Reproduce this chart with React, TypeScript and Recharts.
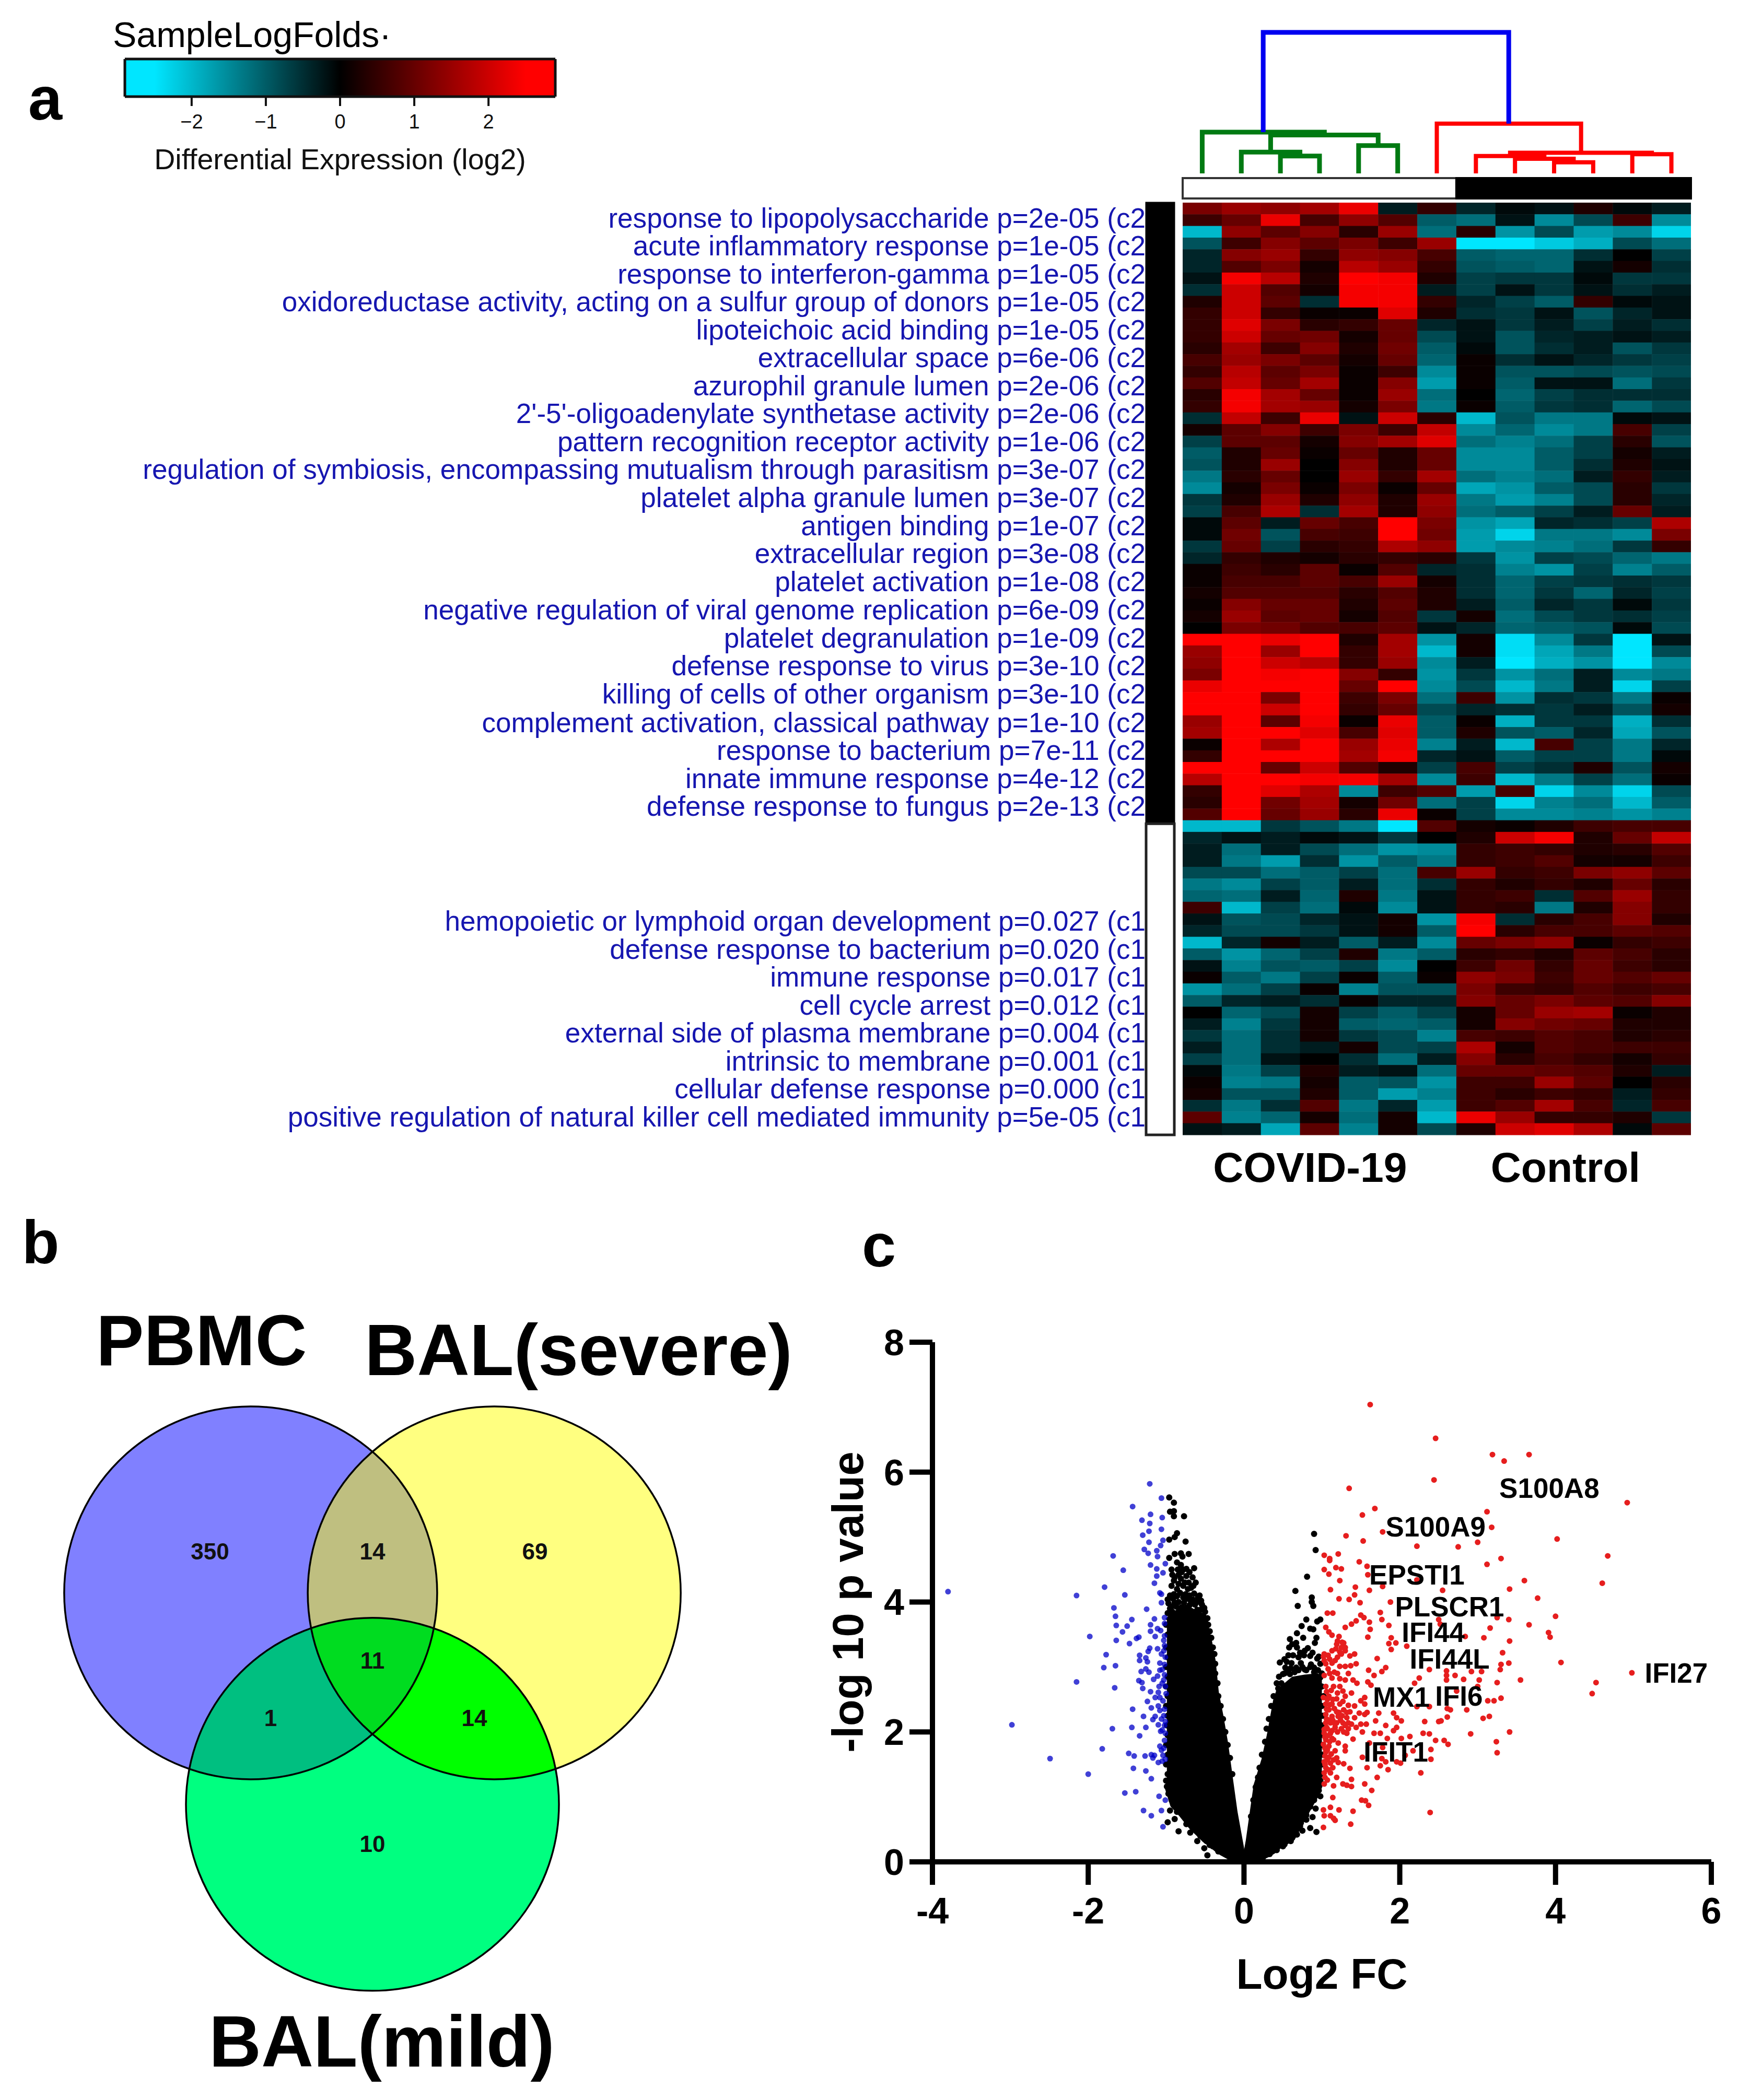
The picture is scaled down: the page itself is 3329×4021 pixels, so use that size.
import React from 'react';
import {
  Area,
  Bar,
  BarChart,
  ComposedChart,
  Line,
  Scatter,
  ScatterChart,
  XAxis,
  YAxis
} from 'recharts';

const FONT = '"Liberation Sans", Arial, sans-serif';

// panel a: colour scale
const legendStops = [-2.9, -2.5, 0, 2.5, 2.9];
const legendTicks = [-2, -1, 0, 1, 2];
const legendEnds = [-2.9, 2.9];

// panel a: GO terms next to the heatmap, with the heatmap row each one sits on
const termLabels = [
  'response to lipopolysaccharide p=2e-05 (c2',
  'acute inflammatory response p=1e-05 (c2',
  'response to interferon-gamma p=1e-05 (c2',
  'oxidoreductase activity, acting on a sulfur group of donors p=1e-05 (c2',
  'lipoteichoic acid binding p=1e-05 (c2',
  'extracellular space p=6e-06 (c2',
  'azurophil granule lumen p=2e-06 (c2',
  "2'-5'-oligoadenylate synthetase activity p=2e-06 (c2",
  'pattern recognition receptor activity p=1e-06 (c2',
  'regulation of symbiosis, encompassing mutualism through parasitism p=3e-07 (c2',
  'platelet alpha granule lumen p=3e-07 (c2',
  'antigen binding p=1e-07 (c2',
  'extracellular region p=3e-08 (c2',
  'platelet activation p=1e-08 (c2',
  'negative regulation of viral genome replication p=6e-09 (c2',
  'platelet degranulation p=1e-09 (c2',
  'defense response to virus p=3e-10 (c2',
  'killing of cells of other organism p=3e-10 (c2',
  'complement activation, classical pathway p=1e-10 (c2',
  'response to bacterium p=7e-11 (c2',
  'innate immune response p=4e-12 (c2',
  'defense response to fungus p=2e-13 (c2',
  'hemopoietic or lymphoid organ development p=0.027 (c1',
  'defense response to bacterium p=0.020 (c1',
  'immune response p=0.017 (c1',
  'cell cycle arrest p=0.012 (c1',
  'external side of plasma membrane p=0.004 (c1',
  'intrinsic to membrane p=0.001 (c1',
  'cellular defense response p=0.000 (c1',
  'positive regulation of natural killer cell mediated immunity p=5e-05 (c1'
];
const termRows = [
  1.3, 3.7, 6.1, 8.5, 10.9, 13.3, 15.7, 18.1, 20.5, 22.9, 25.3, 27.7, 30.1, 32.5, 34.95, 37.35, 39.75,
  42.15, 44.6, 47.0, 49.4, 51.8, 61.65, 64.05, 66.45, 68.85, 71.25, 73.65, 76.05, 78.45
];
const groupTicks = [3.26, 9.79];
const groupNames = ['COVID-19', 'Control'];
const sampleGroups = [{ name: 'samples', covid: 7, control: 6 }];
const clusterRows = [{ name: 'rows', c2: 53.3, c1: 26.7 }];

// log2 values, one list per heatmap row, 13 samples (7 COVID-19 then 6 control)
const heatRows = [
  [1.2, 1.5, 1.4, 1.6, 2.3, -0.3, 0.5, -0.4, -0.1, -0.2, 0.3, -0.1, -0.3],
  [0.6, 1.0, 2.3, 0.7, 1.4, 0.8, -1.0, -1.2, -0.2, -1.5, -0.8, 0.6, -1.5],
  [-2.0, 1.4, 0.9, 1.3, 0.4, 1.5, -1.2, 0.4, -1.6, -0.8, -1.7, -1.5, -2.3],
  [-0.9, 0.6, 1.3, 0.9, 1.2, 0.6, 1.5, -2.5, -2.5, -2.2, -1.9, -0.8, -1.2],
  [-0.4, 1.3, 1.5, 0.5, 1.4, 1.3, 0.7, -1.0, -1.1, -1.1, -0.5, 0, -0.7],
  [-0.4, 0.8, 1.2, 0.2, 1.8, 1.5, 0.5, -0.9, -1.0, -1.1, -0.2, 0.2, -0.5],
  [-0.2, 2.4, 1.8, 0.3, 2.5, 2.4, 0.3, -0.7, -0.6, -0.6, -0.1, -0.6, -0.6],
  [-0.5, 2.0, 0.8, 0.2, 2.4, 2.4, -0.3, -0.7, -0.2, -0.6, -0.2, -0.5, -0.3],
  [0.3, 2.0, 0.9, -0.5, 2.4, 2.4, 0.5, -0.4, -0.7, -1.0, 0.5, -0.1, -0.2],
  [0.5, 2.0, 0.5, 0.1, 0.1, 2.2, 0.3, -0.5, -0.6, -0.2, -0.9, -0.4, -0.2],
  [0.5, 2.2, 1.2, 0.4, 0.5, 1.0, -0.4, -0.2, -0.6, -0.3, -0.7, -0.3, -0.5],
  [0.5, 2.0, 1.0, 1.1, 0.2, 1.0, -0.8, -0.2, -0.9, -0.4, -0.3, -0.2, -0.3],
  [0.4, 1.6, 0.6, 1.3, 0.3, 1.1, -1.0, -0.1, -0.9, -0.5, -0.3, -0.9, -0.6],
  [0.7, 1.5, 1.2, 0.9, 0.2, 1.0, -1.1, 0.1, -0.5, -0.2, -0.4, -0.6, -0.7],
  [0.5, 1.8, 0.9, 1.2, 0.1, 0.6, -1.5, 0.1, -0.9, -0.9, -0.8, -0.9, -0.8],
  [0.8, 1.9, 1.0, 1.6, 0.1, 1.3, -1.7, 0.1, -1.0, -0.2, -0.2, -1.2, -0.6],
  [0.4, 2.4, 1.6, 1.0, 0.1, 1.5, -1.2, 0, -1.1, -0.7, -0.5, -0.5, -0.5],
  [0.5, 2.4, 1.6, 1.5, 0.2, 1.2, -1.3, 0.1, -1.0, -0.6, -0.5, -1.1, -0.8],
  [-0.5, 1.9, 0.6, 2.3, -0.2, 2.0, 0.4, -2.0, -0.9, -1.3, -1.3, -0.1, -0.2],
  [0.2, 0.9, 1.3, 0.6, 1.2, 0.6, 1.9, -1.5, -1.1, -1.5, -1.3, 0.7, -0.7],
  [-0.7, 0.9, 0.9, 0.2, 1.3, 1.6, 2.2, -1.2, -1.4, -1.2, -0.7, 0.4, -0.9],
  [-1.0, 0.3, 1.0, 0.1, 1.0, 0.3, 1.0, -1.5, -1.5, -1.0, -0.7, 0.2, -0.3],
  [-0.9, 0.3, 1.5, 0, 1.3, 0.3, 1.0, -1.5, -1.5, -1.0, -0.5, 0.3, -0.2],
  [-1.3, 0.4, 1.0, 0, 1.5, 0.5, 1.6, -1.2, -1.4, -1.2, -0.3, 0.5, -0.3],
  [-1.5, 0.2, 1.2, 0.1, 1.2, 0.1, 1.0, -1.8, -1.6, -1.0, -0.8, 0.4, -0.6],
  [-0.6, 0.3, 1.5, 0.3, 1.4, 0.3, 1.5, -1.3, -1.7, -1.4, -0.8, 0.4, -0.4],
  [-0.7, 0.7, 1.7, -0.5, 1.6, 0.3, 1.4, -1.2, -1.0, -0.7, -0.3, 1.0, -0.3],
  [-0.1, 0.9, -0.3, 1.0, 0.7, 2.5, 1.2, -1.6, -1.8, -0.4, -0.5, -0.7, 1.7],
  [-0.1, 1.1, -0.9, 0.7, 0.6, 2.5, 1.1, -1.7, -2.3, -1.3, -1.3, -1.5, 1.2],
  [-0.6, 1.0, -0.7, 0.4, 0.5, 1.7, 1.4, -1.7, -1.5, -1.4, -1.2, -0.6, 0.5],
  [-0.4, 0.5, 0.3, 0.2, 0.4, 0.5, 0.4, -0.6, -1.6, -0.7, -0.8, -1.1, -1.3],
  [0.1, 0.6, 0.4, 0.9, 0.1, 0.8, -0.4, -0.5, -1.4, -1.6, -0.7, -1.4, -1.0],
  [0.1, 0.7, 0.7, 0.9, 0.7, 1.5, 0.2, -0.5, -1.1, -0.7, -0.6, -0.5, -0.6],
  [0.2, 0.8, 0.8, 0.8, 0.4, 0.8, 0.3, -0.5, -1.1, -0.6, -1.1, -0.4, -0.7],
  [0.1, 1.3, 1.0, 1.0, 0.3, 0.9, 0.3, -0.3, -1.0, -0.4, -0.6, -0.1, -0.6],
  [0.2, 1.5, 0.9, 1.0, 0.2, 0.8, -0.6, 0.2, -1.2, -0.8, -0.6, -0.5, -0.7],
  [0, 1.2, 1.1, 0.8, 0.7, 0.9, -0.2, -0.4, -1.1, -1.0, -0.9, -0.1, -0.8],
  [2.5, 2.5, 2.3, 2.5, 0.3, 1.6, -1.6, 0.2, -2.4, -1.5, -0.6, -2.5, -0.2],
  [1.5, 2.5, 1.5, 2.5, 0.5, 1.6, -2.0, 0.2, -2.4, -1.8, -1.3, -2.5, -0.8],
  [1.4, 2.5, 2.0, 1.8, 0.5, 1.5, -1.5, -0.3, -2.5, -1.9, -1.6, -2.5, -1.5],
  [1.2, 2.5, 2.4, 2.5, 1.3, 0.5, -1.6, -0.6, -1.6, -1.2, -0.3, -1.5, -1.3],
  [2.3, 2.5, 2.5, 2.5, 1.0, 2.5, -1.5, -0.8, -2.0, -1.3, -0.3, -2.3, -0.7],
  [2.5, 2.5, 1.2, 2.5, 0.6, 1.2, -1.2, 0.6, -1.6, -0.5, -0.6, -1.3, 0.1],
  [2.5, 2.5, 2.0, 2.5, 0.5, 1.0, -0.8, -0.4, -0.5, -0.6, -0.3, -0.9, 0.2],
  [1.5, 2.5, 0.9, 2.4, 0.1, 2.3, -1.0, 0.1, -1.9, -0.6, -0.6, -1.9, -0.5],
  [1.6, 2.5, 2.5, 2.2, 0.7, 2.2, -1.0, 0.3, -0.9, -1.0, -0.4, -1.8, -0.9],
  [0.1, 2.5, 1.7, 2.5, 1.5, 2.3, -1.4, -0.3, -2.0, 0.7, -0.7, -1.3, -0.4],
  [0.5, 2.5, 2.5, 2.5, 1.6, 2.4, -0.4, -0.2, -1.0, -0.7, -0.7, -1.3, -0.1],
  [2.5, 2.5, 1.0, 2.0, 0.8, 0.3, -0.7, 0.7, -0.7, -0.5, 0.3, -0.9, 0.2],
  [1.8, 2.5, 2.5, 2.4, 2.4, 1.6, -1.5, 0.6, -2.0, -1.3, -0.7, -1.2, 0.1],
  [0.5, 2.5, 2.2, 1.7, -1.5, 0.6, 0.8, -1.7, 0.7, -2.3, -1.5, -2.3, -0.8],
  [0.4, 2.5, 1.1, 1.6, 0.2, 1.1, -1.2, -0.7, -2.3, -1.4, -1.2, -2.0, -1.0],
  [0.8, 2.5, 1.0, 1.5, 0.4, 2.3, 0.1, -0.7, -1.5, -1.5, -1.4, -1.6, -1.4],
  [-2.0, -2.0, -0.6, -0.9, -1.3, -2.5, 0.8, 0.2, 0.1, 0.3, 0.6, 0.7, 0.7],
  [-0.4, -0.2, -0.3, -0.1, -0.2, -0.6, 0, 0.3, 2.0, 2.4, 0.3, 1.0, 1.9],
  [-0.3, -1.2, -0.3, -0.8, -1.2, -1.6, -1.5, 0.5, 0.6, 0.5, 0.3, 0.4, 0.8],
  [-0.3, -1.3, -1.7, -0.5, -1.6, -1.0, -1.3, 0.5, 0.6, 0.8, 0.2, 0.2, 0.6],
  [-0.8, -0.8, -1.2, -1.0, -0.7, -1.2, 0.7, 1.5, 0.5, 0.6, 1.2, 1.4, 0.9],
  [-1.3, -1.5, -0.7, -1.0, -0.3, -1.2, -0.5, 0.5, 0.3, 0.5, 0.3, 1.0, 0.4],
  [-1.1, -1.2, -0.3, -1.1, 0.3, -1.3, -0.2, 0.5, 0.6, -0.5, 0.8, 1.5, 0.5],
  [0.6, -2.0, -0.7, -1.2, -0.1, -1.5, -0.2, 0.5, 0.4, -1.3, 0.3, 1.3, 0.5],
  [-0.2, -0.9, -0.8, -0.4, -0.2, 0.2, -1.6, 2.4, -0.5, 0.4, 0.7, 1.3, 0.3],
  [-0.4, -0.8, -0.8, -0.6, -0.2, 0.2, -1.0, 2.5, 0.4, 0.7, 0.7, 0.9, 0.8],
  [-2.0, -0.4, 0.2, -0.3, -1.0, -0.3, -1.5, 1.0, 1.2, 1.4, 0.1, 0.5, 0.6],
  [-1.0, -1.6, -1.1, -0.7, 0.3, -1.3, -1.0, 0.4, 0.5, 0.3, 0.9, 0.7, 0.4],
  [-0.2, -1.4, -0.9, -1.0, -0.7, -1.5, 0, 0.6, 1.1, 0.5, 1.0, 0.6, 0.4],
  [0.1, -1.0, -1.3, -0.7, 0.1, -1.0, 0.1, 1.4, 1.2, 0.6, 1.0, 0.8, 1.0],
  [-1.6, -1.2, -0.7, 0.1, -1.4, -0.9, -0.9, 1.2, 0.6, 0.5, 0.8, 0.6, 0.7],
  [-1.0, -0.4, -0.3, -0.5, 0.1, -0.4, -0.4, 1.3, 1.0, 1.2, 0.9, 0.8, 1.3],
  [0, -1.1, -0.8, 0.2, -0.7, -1.0, -0.7, 0.2, 1.0, 1.5, 1.6, 0.1, 0.3],
  [-0.3, -1.4, -0.6, 0.2, -1.0, -1.1, -1.0, 0.2, 1.3, 1.1, 1.0, 0.3, 0.3],
  [-0.6, -1.2, -0.5, 0.2, -0.6, -0.8, -1.4, 0.7, 0.6, 0.8, 0.7, 0.3, 0.4],
  [-0.3, -1.2, -0.5, -0.3, 0.2, -0.8, -0.7, 1.7, 0.2, 0.8, 0.7, 0.6, 0.6],
  [-0.7, -1.2, -0.2, 0, -0.5, -1.2, -0.3, 1.3, 0.4, 0.7, 0.5, 0.2, 0.5],
  [-0.1, -1.3, -0.7, 0.3, -0.3, -0.2, -1.2, 1.0, 1.0, 0.9, 0.8, 0.3, -0.3],
  [0.1, -1.4, -1.3, 0.2, -1.0, -0.9, -1.6, 0.6, 0.6, 1.5, 0.9, 0, 0.4],
  [0.2, -0.9, -0.9, 0.3, -1.0, -1.7, -1.4, 0.6, 0.4, 0.6, 0.5, -0.3, 0.5],
  [-0.5, -1.3, -0.5, 0.8, -1.3, -0.4, -1.7, 0.6, 0.8, 1.6, 0.7, -0.4, 0.7],
  [0.9, -1.4, -1.1, 0.2, -1.2, 0.2, -2.0, 2.3, 1.5, 0.5, 0.5, 0.3, -0.6],
  [-0.2, -0.3, -1.8, 0.9, -1.4, 0.2, -0.8, 0.3, 2.0, 2.2, 1.7, -0.1, 0.9]
];

// panel a: dendrogram merges [left x, right x, merge height, left child height, right child height]
const greenLinks = [
  [4.5, 5.5, 0.197, 0, 0],
  [2.5, 3.5, 0.123, 0, 0],
  [1.5, 3.0, 0.151, 0, 0.123],
  [2.25, 5.0, 0.272, 0.151, 0.197],
  [0.5, 3.625, 0.293, 0, 0.272]
];
const redLinks = [
  [9.5, 10.5, 0.079, 0, 0],
  [8.5, 10.0, 0.104, 0, 0.079],
  [7.5, 9.25, 0.123, 0, 0.104],
  [11.5, 12.5, 0.136, 0, 0],
  [8.375, 12.0, 0.146, 0.123, 0.136],
  [6.5, 10.19, 0.353, 0, 0.146]
];
const blueLinks = [[2.06, 8.34, 1.0, 0.293, 0.353]];

// panel b: Venn diagram, in units of one circle radius
const vennSets = [
  { id: 'pbmc', x: -0.653, y: 0, fill: '#8080FF' },
  { id: 'severe', x: 0.653, y: 0, fill: '#FFFF80' },
  { id: 'mild', x: 0, y: -1.134, fill: '#00FF80' }
];
const vennOverlaps = [
  { x: -0.653, y: 0, inside: ['severe'], fill: '#BFBF80' },
  { x: -0.653, y: 0, inside: ['mild'], fill: '#00BF80' },
  { x: 0.653, y: 0, inside: ['mild'], fill: '#00FF00' },
  { x: -0.653, y: 0, inside: ['severe', 'mild'], fill: '#00DC20' }
];
const vennCounts = [
  { x: -0.871, y: 0.224, count: 350 },
  { x: 0, y: 0.224, count: 14 },
  { x: 0.871, y: 0.224, count: 69 },
  { x: 0, y: -0.364, count: 11 },
  { x: -0.546, y: -0.672, count: 1 },
  { x: 0.546, y: -0.672, count: 14 },
  { x: 0, y: -1.345, count: 10 }
];

// panel c: volcano plot, [log2 FC, -log10 p]
const xTicks = [-4, -2, 0, 2, 4, 6];
const yTicks = [0, 2, 4, 6, 8];
const blueGenes = [
  [-3.8, 4.16], [-2.98, 2.11], [-2.49, 1.59], [-2.15, 4.1], [-2.15, 2.77], [-1.98, 3.47], [-2.0, 1.35], [-1.82, 1.74],
  [-1.8, 2.99], [-1.79, 4.23], [-1.77, 3.19], [-1.69, 2.05], [-1.68, 4.71], [-1.67, 3.91], [-1.65, 3.02], [-1.66, 2.68],
  [-1.65, 3.78], [-1.64, 3.64], [-1.64, 3.41], [-1.55, 4.49], [-1.53, 4.11], [-1.56, 3.54], [-1.5, 3.63], [-1.44, 3.73],
  [-1.47, 3.36], [-1.53, 1.06], [-1.39, 1.08], [-1.43, 5.47], [-1.43, 2.35], [-1.44, 2.07], [-1.48, 1.67], [-1.41, 1.63],
  [-1.42, 1.44], [-1.38, 3.44], [-1.35, 3.46], [-1.34, 1.94], [-1.29, 2.24], [-1.29, 0.79], [-1.26, 2.07], [-1.26, 1.4],
  [-1.27, 1.63], [-1.21, 5.82], [-1.31, 5.26], [-1.2, 5.35], [-1.21, 5.21], [-1.22, 5.09], [-1.3, 5.03], [-1.22, 4.92],
  [-1.28, 4.81], [-1.23, 4.75], [-1.2, 4.57], [-1.25, 3.89], [-1.15, 3.74], [-1.2, 3.65], [-1.2, 3.55], [-1.14, 3.47],
  [-1.21, 3.29], [-1.23, 3.24], [-1.11, 3.28], [-1.34, 3.18], [-1.34, 3.1], [-1.26, 3.14], [-1.24, 3.08], [-1.32, 2.93],
  [-1.26, 2.97], [-1.22, 2.92], [-1.35, 2.79], [-1.31, 2.76], [-1.3, 2.67], [-1.2, 2.62], [-1.24, 2.47], [-1.19, 2.37],
  [-1.16, 2.81], [-1.11, 2.86], [-1.14, 2.53], [-1.08, 2.53], [-1.1, 2.61], [-1.08, 2.33], [-1.14, 2.24], [-1.17, 2.19],
  [-1.1, 2.11], [-1.07, 2.01], [-1.08, 1.78], [-1.19, 1.65], [-1.15, 1.64], [-1.17, 1.6], [-1.1, 1.53], [-1.19, 1.28],
  [-1.09, 1.01], [-1.01, 0.95], [-1.19, 0.71], [-1.06, 0.79], [-1.04, 0.54], [-1.06, 5.6], [-1.05, 5.3], [-1.06, 5.12],
  [-1.04, 4.95], [-1.07, 4.87], [-1.12, 4.79], [-1.11, 4.7], [-1.01, 4.59], [-1.12, 4.51], [-1.04, 4.45], [-1.12, 4.4],
  [-1.15, 4.29], [-1.08, 4.14], [-1.06, 4.12], [-1.06, 3.99], [-1.02, 3.76], [-1.02, 3.67], [-1.11, 3.59], [-1.07, 3.56],
  [-1.02, 3.48], [-1.03, 3.41], [-1.02, 3.33], [-1.08, 3.06], [-1.02, 3.04], [-1.05, 2.96], [-1.02, 2.88], [-1.05, 2.75],
  [-1.0, 2.59], [-1.02, 2.35], [-1.01, 2.16], [-1.05, 2.03], [-1.02, 1.87], [-1.04, 1.64], [-1.01, 1.58], [-1.03, 3.25],
  [-1.01, 3.15], [-1.03, 2.8], [-1.01, 2.7], [-1.04, 2.48], [-1.03, 2.25], [-1.02, 2.1], [-1.01, 1.98], [-1.03, 1.75],
  [-1.06, 3.2], [-1.08, 2.95], [-1.09, 2.7], [-1.1, 2.4], [-1.06, 2.2], [-1.06, 1.72], [-1.05, 1.55]
];
const redGenes = [
  [1.62, 7.04], [2.46, 6.52], [3.19, 6.27], [3.34, 6.17], [3.66, 6.27], [2.44, 5.88], [1.35, 5.75], [4.92, 5.53],
  [1.68, 5.44], [1.52, 5.34], [3.12, 5.39], [3.18, 5.15], [1.78, 5.08], [1.31, 5.02], [1.53, 4.94], [4.02, 4.97],
  [2.22, 4.86], [2.75, 4.85], [3.0, 4.92], [1.03, 4.72], [1.21, 4.74], [1.1, 4.67], [1.1, 4.64], [4.67, 4.71],
  [3.3, 4.67], [3.12, 4.58], [1.48, 4.62], [1.03, 4.5], [1.09, 4.43], [1.18, 4.53], [1.25, 4.51], [1.23, 4.33],
  [1.58, 4.55], [1.59, 4.42], [2.22, 4.34], [3.6, 4.33], [4.6, 4.29], [1.78, 4.24], [1.43, 4.23], [1.11, 4.19],
  [1.61, 4.18], [2.55, 4.18], [3.41, 4.2], [1.42, 4.11], [1.22, 4.05], [1.35, 4.04], [1.49, 3.99], [1.88, 4.0],
  [3.77, 4.06], [1.07, 3.83], [1.14, 3.83], [1.75, 3.84], [4.0, 3.78], [1.5, 3.8], [1.44, 3.71], [1.38, 3.66],
  [1.3, 3.61], [1.54, 3.76], [1.61, 3.69], [1.77, 3.73], [3.25, 3.76], [3.4, 3.73], [2.5, 3.73], [2.52, 3.66],
  [3.66, 3.65], [1.86, 3.64], [1.62, 3.58], [3.16, 3.6], [3.91, 3.53], [3.93, 3.46], [1.05, 3.61], [1.09, 3.54],
  [1.13, 3.49], [1.22, 3.47], [1.59, 3.46], [2.84, 3.47], [3.08, 3.45], [3.41, 3.4], [1.89, 3.45], [1.95, 3.37],
  [1.86, 3.36], [2.09, 3.32], [1.89, 3.27], [1.28, 3.37], [1.19, 3.35], [1.25, 3.3], [1.3, 3.25], [1.23, 3.23],
  [1.13, 3.25], [1.03, 3.2], [1.08, 3.18], [1.02, 3.16], [1.42, 3.2], [1.36, 3.17], [1.71, 3.13], [3.32, 3.22],
  [3.3, 3.04], [3.4, 3.06], [4.07, 3.07], [1.23, 3.01], [1.13, 3.06], [1.3, 3.01], [1.37, 3.02], [1.05, 3.05],
  [1.44, 3.05], [1.82, 2.99], [1.77, 2.93], [1.6, 2.95], [1.67, 2.87], [2.38, 2.96], [3.29, 2.96], [2.6, 2.94],
  [2.71, 2.87], [2.92, 2.93], [3.05, 2.93], [4.98, 2.91], [2.6, 2.87], [2.6, 2.8], [2.82, 2.81], [2.25, 2.83],
  [2.19, 2.75], [3.02, 2.8], [3.55, 2.8], [3.25, 2.76], [4.52, 2.76], [4.47, 2.59], [1.13, 2.83], [1.03, 2.87],
  [1.23, 2.82], [1.3, 2.8], [1.4, 2.8], [1.45, 2.75], [1.59, 2.77], [1.63, 2.72], [1.05, 2.7], [1.15, 2.7],
  [1.23, 2.7], [3.0, 2.7], [1.09, 2.55], [1.27, 2.63], [1.38, 2.6], [1.55, 2.53], [1.5, 2.48], [1.19, 2.51],
  [1.02, 2.53], [1.05, 2.43], [1.13, 2.43], [1.23, 2.43], [1.34, 2.41], [1.55, 2.43], [2.73, 2.63], [3.13, 2.48],
  [3.21, 2.48], [3.3, 2.52], [2.22, 2.39], [2.38, 2.39], [2.61, 2.36], [2.65, 2.34], [2.86, 2.34], [1.09, 2.34],
  [1.19, 2.31], [1.28, 2.34], [1.36, 2.31], [1.48, 2.29], [1.55, 2.27], [1.73, 2.29], [1.92, 2.29], [1.05, 2.27],
  [1.13, 2.24], [1.21, 2.24], [1.32, 2.22], [1.42, 2.22], [1.96, 2.22], [3.15, 2.24], [3.07, 2.21], [2.61, 2.23],
  [2.53, 2.17], [2.5, 2.16], [2.32, 2.16], [2.02, 2.17], [1.69, 2.17], [1.57, 2.12], [1.05, 2.14], [1.11, 2.14],
  [1.19, 2.14], [1.27, 2.14], [1.38, 2.12], [1.5, 2.12], [1.07, 2.05], [1.17, 2.07], [1.25, 2.05], [1.34, 2.05],
  [1.44, 2.07], [1.82, 2.1], [1.96, 2.07], [1.03, 1.98], [1.11, 1.98], [1.32, 1.98], [1.52, 2.0], [1.67, 1.98],
  [1.75, 1.98], [1.92, 2.02], [2.3, 1.98], [2.38, 1.97], [2.91, 1.97], [3.41, 2.0], [1.05, 1.88], [1.13, 1.9],
  [1.4, 1.89], [1.84, 1.9], [2.02, 1.9], [2.13, 1.93], [2.46, 1.87], [2.57, 1.87], [2.62, 1.81], [3.24, 1.85],
  [1.02, 1.81], [1.09, 1.78], [1.21, 1.83], [1.3, 1.78], [1.61, 1.83], [1.78, 1.76], [1.05, 1.69], [1.17, 1.71],
  [1.3, 1.71], [2.4, 1.73], [3.25, 1.68], [2.17, 1.71], [2.07, 1.64], [1.09, 1.61], [1.19, 1.6], [1.52, 1.61],
  [1.77, 1.59], [2.4, 1.58], [1.03, 1.54], [1.11, 1.52], [1.21, 1.53], [1.28, 1.51], [1.82, 1.54], [1.96, 1.54],
  [2.01, 1.52], [1.05, 1.45], [1.14, 1.45], [1.36, 1.44], [1.58, 1.45], [1.75, 1.48], [1.85, 1.42], [1.03, 1.37],
  [1.11, 1.37], [2.27, 1.37], [1.19, 1.3], [1.71, 1.3], [1.38, 1.27], [1.03, 1.2], [1.27, 1.2], [1.32, 1.18],
  [1.38, 1.16], [1.55, 1.2], [1.15, 1.17], [1.64, 1.1], [1.14, 0.99], [1.51, 0.95], [1.56, 0.94], [1.6, 0.87],
  [1.11, 0.84], [1.02, 0.8], [1.22, 0.8], [1.4, 0.78], [2.39, 0.76], [1.03, 0.71], [1.11, 0.71], [1.15, 0.67],
  [1.17, 0.64], [1.37, 0.58], [1.02, 0.53], [1.06, 2.35], [1.1, 2.42], [1.16, 2.36], [1.22, 2.3], [1.26, 2.25],
  [1.32, 2.3], [1.06, 2.2], [1.09, 2.18], [1.14, 2.18], [1.17, 2.12], [1.24, 2.18], [1.3, 2.1], [1.34, 2.14],
  [1.06, 2.07], [1.13, 2.02], [1.2, 2.0], [1.28, 2.0], [1.03, 2.04], [1.04, 1.92], [1.07, 1.94], [1.1, 1.85],
  [1.15, 1.88], [1.04, 1.75], [1.07, 1.72], [1.12, 1.66], [1.04, 1.63], [1.07, 1.57], [1.15, 1.57], [1.04, 1.5],
  [1.08, 1.42], [1.04, 1.3], [1.07, 1.26], [1.2, 3.4], [1.26, 3.38], [1.18, 3.28], [1.3, 3.3], [1.25, 3.2],
  [1.2, 3.15], [1.1, 3.12], [1.17, 3.1], [1.03, 3.1], [1.08, 2.97], [1.16, 2.92], [1.1, 2.9], [1.2, 2.9],
  [1.34, 2.9], [1.06, 2.62], [1.12, 2.64], [1.2, 2.6], [1.3, 2.55], [1.07, 2.5], [1.14, 2.5], [1.27, 2.47],
  [1.42, 2.4], [1.58, 2.3]
];
const blackGenes = [
  [-0.96, 5.61], [-0.9, 5.53], [-0.95, 5.39], [-0.9, 5.4], [-0.9, 5.32], [-0.77, 5.32], [-0.86, 5.06], [-0.89, 5.0],
  [-0.96, 4.96], [-0.75, 4.93], [-0.96, 4.68], [-0.89, 4.74], [-0.81, 4.75], [-0.71, 4.74], [-0.79, 4.7], [-0.86, 4.61],
  [-0.81, 4.57], [-0.64, 4.52], [-0.74, 4.51], [-0.8, 4.46], [-0.89, 4.38], [-0.74, 4.4], [-0.9, 4.33], [-0.81, 4.36],
  [-0.62, 4.3], [-0.71, 4.3], [-0.86, 4.2], [-0.72, 4.2], [-0.68, 4.22], [-0.98, 4.04], [-0.89, 3.99], [-0.78, 4.07],
  [-0.68, 4.01], [-0.59, 4.07], [-0.54, 3.96], [-0.51, 3.91], [-0.92, 3.85], [-0.83, 3.78], [-0.74, 3.91], [-0.65, 3.83],
  [-0.57, 3.78], [-0.5, 3.7], [-0.98, 3.83], [-0.86, 4.09], [-0.93, 3.93], [-0.77, 3.99], [-0.63, 3.96], [-0.6, 3.88],
  [-0.98, 0.61], [-0.84, 0.47], [-0.89, 0.66], [-0.74, 0.58], [-0.69, 0.45], [-0.56, 0.4], [-0.6, 0.32], [-0.51, 0.21],
  [-0.47, 0.1], [-0.44, 0.26], [-0.86, 0.77], [-0.95, 0.79], [-0.99, 1.16],
  [-0.93, 4.5], [-0.85, 4.5], [-0.78, 4.5], [-0.7, 4.46], [-0.92, 4.42], [-0.84, 4.42], [-0.76, 4.3], [-0.66, 4.38],
  [-0.93, 4.25], [-0.84, 4.28], [-0.78, 4.25], [-0.65, 4.25], [-0.95, 4.1], [-0.9, 4.12], [-0.82, 4.14], [-0.75, 4.12],
  [-0.7, 4.1], [-0.64, 4.13], [-0.57, 4.1], [-0.97, 3.98], [-0.91, 4.05], [-0.84, 4.0], [-0.72, 4.05], [-0.66, 4.04],
  [-0.6, 4.0], [-0.55, 4.02], [-0.95, 3.9], [-0.87, 3.93], [-0.8, 3.92], [-0.7, 3.95], [-0.56, 3.88], [-0.5, 3.85],
  [-0.47, 3.75], [-0.46, 3.65], [-0.44, 3.55], [-0.42, 3.45], [-0.4, 3.3], [-0.38, 3.2], [-0.37, 3.05], [-0.37, 2.9],
  [-0.34, 2.75], [-0.33, 2.55], [-0.3, 2.4], [-0.27, 2.2], [-0.24, 2.0], [-0.21, 1.8], [-0.18, 1.6], [-0.15, 1.35],
  [-1.0, 3.65], [-0.98, 3.5], [-1.0, 3.3], [-0.98, 3.15], [-1.0, 3.0], [-0.98, 2.85], [-1.0, 2.7], [-0.98, 2.55],
  [-1.0, 2.4], [-0.98, 2.25], [-0.99, 2.1], [-0.98, 1.95], [-1.0, 1.8], [-0.98, 1.65], [-1.0, 1.5], [-0.98, 1.35],
  [-1.0, 1.25], [-0.97, 1.05], [-0.93, 0.95], [-0.9, 0.88], [-0.84, 0.8], [-0.78, 0.72], [-0.7, 0.6], [-0.62, 0.5],
  [-0.55, 0.42], [-0.48, 0.32], [-0.4, 0.24], [-0.33, 0.16],
  [0.9, 5.05], [0.92, 4.8], [0.81, 4.39], [0.66, 4.17], [0.87, 4.07], [0.87, 4.0], [0.69, 3.94], [0.89, 3.94],
  [0.8, 3.73], [0.98, 3.73], [0.94, 3.7], [0.74, 3.63], [0.85, 3.59], [0.89, 3.58], [0.68, 3.52], [0.93, 3.45],
  [0.59, 3.43], [0.76, 3.45], [0.67, 3.37], [0.58, 3.3], [0.82, 3.29], [0.91, 3.37], [0.68, 3.3], [0.78, 3.25],
  [0.57, 3.18], [0.77, 3.18], [0.63, 3.18], [0.94, 3.13], [0.46, 3.07], [0.55, 3.08], [0.61, 3.06], [0.73, 3.06],
  [0.86, 3.04], [0.53, 2.99], [0.67, 2.99], [0.78, 2.96], [0.9, 2.99], [0.96, 3.16], [0.5, 2.89], [0.59, 2.89],
  [0.98, 2.84], [0.44, 2.67], [0.98, 1.01], [0.89, 1.04], [0.82, 0.84], [0.88, 0.69], [0.85, 0.52], [0.93, 0.46],
  [0.75, 0.48], [0.65, 0.51], [0.61, 0.36], [0.52, 0.27], [0.92, 0.82], [0.8, 0.65], [0.73, 0.6],
  [0.42, 2.75], [0.45, 2.85], [0.48, 2.75], [0.52, 2.9], [0.56, 2.95], [0.6, 2.98], [0.65, 2.92], [0.7, 2.95],
  [0.75, 3.0], [0.8, 2.95], [0.85, 3.0], [0.9, 2.92], [0.95, 2.95], [1.0, 2.9], [0.52, 3.12], [0.7, 3.15],
  [0.85, 3.17], [0.62, 3.35], [0.72, 3.22], [0.88, 3.22], [0.98, 3.05], [0.96, 2.72], [0.38, 2.55], [0.35, 2.4],
  [0.32, 2.2], [0.29, 2.05], [0.27, 1.85], [0.23, 1.65], [0.2, 1.45], [0.18, 1.3], [0.15, 1.15], [0.12, 0.95],
  [0.09, 0.7], [1.0, 2.7], [1.02, 2.55], [1.0, 2.4], [1.01, 2.25], [1.0, 2.1], [1.02, 1.95], [1.0, 1.8],
  [1.01, 1.65], [1.0, 1.5], [1.01, 1.35], [0.98, 1.25], [0.96, 1.1], [0.9, 0.95], [0.85, 0.85], [0.8, 0.72],
  [0.72, 0.55], [0.68, 0.42], [0.6, 0.32], [0.5, 0.24], [0.42, 0.18], [0.33, 0.12], [0.25, 0.08]
];
// outline of the solid black wedges, where single genes can no longer be told apart
const leftMass = [
  { x: -0.99, range: [1.14, 3.72] },
  { x: -0.92, range: [0.87, 3.8] },
  { x: -0.8, range: [0.71, 3.9] },
  { x: -0.68, range: [0.53, 3.88] },
  { x: -0.51, range: [0.33, 3.78] },
  { x: -0.44, range: [0.27, 3.41] },
  { x: -0.39, range: [0.22, 3.09] },
  { x: -0.35, range: [0.18, 2.61] },
  { x: -0.29, range: [0.13, 2.24] },
  { x: -0.23, range: [0.09, 1.82] },
  { x: -0.17, range: [0.05, 1.29] },
  { x: -0.11, range: [0.03, 0.77] },
  { x: -0.03, range: [0.01, 0.24] },
  { x: 0, range: [0, 0] }
];
const rightMass = [
  { x: 0, range: [0, 0] },
  { x: 0.05, range: [0, 0.33] },
  { x: 0.15, range: [0.01, 1.18] },
  { x: 0.25, range: [0.07, 1.57] },
  { x: 0.32, range: [0.11, 1.95] },
  { x: 0.4, range: [0.17, 2.48] },
  { x: 0.44, range: [0.22, 2.63] },
  { x: 0.63, range: [0.36, 2.82] },
  { x: 0.78, range: [0.7, 2.85] },
  { x: 0.94, range: [1.04, 2.87] },
  { x: 1.0, range: [1.23, 2.82] }
];
const geneLabels = [
  { x: 3.92, y: 5.75, name: 'S100A8' },
  { x: 2.46, y: 5.16, name: 'S100A9' },
  { x: 2.22, y: 4.42, name: 'EPSTI1' },
  { x: 2.64, y: 3.93, name: 'PLSCR1' },
  { x: 2.43, y: 3.53, name: 'IFI44' },
  { x: 2.64, y: 3.12, name: 'IFI44L' },
  { x: 2.02, y: 2.54, name: 'MX1' },
  { x: 2.76, y: 2.55, name: 'IFI6' },
  { x: 1.95, y: 1.69, name: 'IFIT1' },
  { x: 5.55, y: 2.91, name: 'IFI27' }
];

const toPoints = (pairs: number[][]) => pairs.map(([x, y]) => ({ x, y }));

const heatColor = (v: number) => {
  const t = Math.min(Math.abs(v) / 2.5, 1);
  return v >= 0
    ? `rgb(${Math.round(255 * t)},0,0)`
    : `rgb(0,${Math.round(230 * t)},${Math.round(255 * t)})`;
};

const heatCells = heatRows.flatMap((row, r) =>
  row.map((value, c) => ({ x: c + 0.5, y: r + 0.5, value }))
);

const linkPath = ([left, right, h, hLeft, hRight]: number[]) => [
  { x: left, h: hLeft },
  { x: left, h },
  { x: right, h },
  { x: right, h: hRight }
];

const HEAT_W = 973;
const HEAT_H = 1785;
const cellW = HEAT_W / 13;
const cellH = HEAT_H / heatRows.length;

const HeatCell = ({ cx, cy, payload }: any) => (
  <rect
    x={cx - cellW / 2}
    y={cy - cellH / 2}
    width={cellW + 0.5}
    height={cellH + 0.5}
    fill={heatColor(payload.value)}
  />
);

const TermTick = ({ y, index }: any) => (
  <text x={2193} y={y} textAnchor="end" dominantBaseline="central" fontSize={53.1} fill="#1616B0">
    {termLabels[index]}
  </text>
);

const VENN_W = 1300;
const VENN_H = 1300;
const VENN_XMAX = 1.8207;
const vennR = VENN_W / (2 * VENN_XMAX);

const VennBase = ({ cx, cy, payload }: any) => (
  <g>
    <clipPath id={`venn-${payload.id}`}>
      <circle cx={cx} cy={cy} r={vennR} />
    </clipPath>
    <circle cx={cx} cy={cy} r={vennR} fill={payload.fill} />
  </g>
);

const VennOverlap = ({ cx, cy, payload }: any) => {
  let node = <circle cx={cx} cy={cy} r={vennR} fill={payload.fill} />;
  payload.inside.forEach((id: string) => {
    node = <g clipPath={`url(#venn-${id})`}>{node}</g>;
  });
  return node;
};

const Title = ({ x, y, size, children }: any) => (
  <div
    style={{
      position: 'absolute',
      left: x,
      top: y - size,
      lineHeight: `${size * 1.2}px`,
      fontSize: size,
      fontWeight: 700,
      whiteSpace: 'nowrap',
      color: '#000'
    }}
  >
    {children}
  </div>
);

const Place = ({ x, y, children }: any) => (
  <div style={{ position: 'absolute', left: x, top: y }}>{children}</div>
);

const App = () => (
  <div
    style={{
      position: 'absolute',
      left: 0,
      top: 0,
      width: 3329,
      height: 4021,
      background: '#fff',
      fontFamily: FONT,
      overflow: 'hidden'
    }}
  >
    <Title x={54} y={236} size={117}>a</Title>
    <Title x={42} y={2426} size={117}>b</Title>
    <Title x={1650} y={2432} size={117}>c</Title>

    {/* colour scale */}
    <div style={{ position: 'absolute', left: 216, top: 25, fontSize: 68, lineHeight: '82px', whiteSpace: 'nowrap' }}>
      SampleLogFolds·
    </div>
    <Place x={199} y={103}>
      <ComposedChart width={904} height={240} margin={{ top: 10, right: 40, bottom: 0, left: 40 }}>
        <defs>
          <linearGradient id="legendGrad" x1="0" x2="1" y1="0" y2="0">
            {legendStops.map((v) => (
              <stop key={v} offset={(v + 2.9) / 5.8} stopColor={heatColor(v)} />
            ))}
          </linearGradient>
        </defs>
        <XAxis
          type="number"
          dataKey="x"
          domain={[-2.9, 2.9]}
          ticks={legendTicks}
          height={158}
          tickSize={18}
          tickMargin={16}
          axisLine={{ stroke: '#111', strokeWidth: 5 }}
          tickLine={{ stroke: '#111', strokeWidth: 4 }}
          tickFormatter={(v: number) => String(v).replace('-', '\u2212')}
          tick={{ fontSize: 38, fill: '#111' }}
          label={{
            value: 'Differential Expression (log2)',
            position: 'insideTop',
            offset: 100,
            fontSize: 55.5,
            fill: '#111'
          }}
        />
        <YAxis hide domain={[0, 1]} />
        <Area
          data={legendEnds.map((x) => ({ x, v: 1 }))}
          dataKey="v"
          baseValue={0}
          fill="url(#legendGrad)"
          fillOpacity={1}
          stroke="#111"
          strokeWidth={5}
          dot={false}
          isAnimationActive={false}
        />
        {legendEnds.map((x) => (
          <Line
            key={x}
            data={[
              { x, v: 0 },
              { x, v: 1 }
            ]}
            dataKey="v"
            stroke="#111"
            strokeWidth={5}
            dot={false}
            isAnimationActive={false}
          />
        ))}
      </ComposedChart>
    </Place>

    {/* dendrogram */}
    <Place x={2264} y={52}>
      <ComposedChart width={HEAT_W} height={280} margin={{ top: 10, right: 0, bottom: 0, left: 0 }}>
        <XAxis hide type="number" dataKey="x" domain={[0, 13]} />
        <YAxis hide domain={[0, 1]} />
        {greenLinks.map((link, i) => (
          <Line key={`g${i}`} data={linkPath(link)} dataKey="h" stroke="#007A12" strokeWidth={9} dot={false} isAnimationActive={false} />
        ))}
        {redLinks.map((link, i) => (
          <Line key={`r${i}`} data={linkPath(link)} dataKey="h" stroke="#FF0000" strokeWidth={8} dot={false} isAnimationActive={false} />
        ))}
        {blueLinks.map((link, i) => (
          <Line key={`b${i}`} data={linkPath(link)} dataKey="h" stroke="#0000F0" strokeWidth={9} dot={false} isAnimationActive={false} />
        ))}
      </ComposedChart>
    </Place>

    {/* sample group strip */}
    <Place x={2261} y={338}>
      <BarChart
        width={HEAT_W + 6}
        height={45}
        layout="vertical"
        data={sampleGroups}
        barCategoryGap={0}
        margin={{ top: 3, right: 3, bottom: 3, left: 3 }}
      >
        <XAxis hide type="number" domain={[0, 13]} />
        <YAxis hide type="category" dataKey="name" />
        <Bar dataKey="covid" stackId="s" fill="#fff" stroke="#333" strokeWidth={4} isAnimationActive={false} />
        <Bar dataKey="control" stackId="s" fill="#000" stroke="#000" strokeWidth={4} isAnimationActive={false} />
      </BarChart>
    </Place>

    {/* heatmap with term labels and group names */}
    <Place x={0} y={388}>
      <ScatterChart width={2264 + HEAT_W} height={HEAT_H + 110} margin={{ top: 0, right: 0, bottom: 0, left: 0 }}>
        <XAxis
          type="number"
          dataKey="x"
          domain={[0, 13]}
          ticks={groupTicks}
          height={110}
          interval={0}
          axisLine={false}
          tickLine={false}
          tickMargin={27}
          tickFormatter={(_: number, i: number) => groupNames[i]}
          tick={{ fontSize: 80.5, fontWeight: 700, fill: '#000' }}
        />
        <YAxis
          type="number"
          dataKey="y"
          domain={[0, heatRows.length]}
          reversed
          ticks={termRows}
          interval={0}
          width={2264}
          axisLine={false}
          tickLine={false}
          tick={<TermTick />}
        />
        <Scatter data={heatCells} shape={<HeatCell />} isAnimationActive={false} />
      </ScatterChart>
    </Place>

    {/* row cluster strip, covers the end of the term labels */}
    <Place x={2191} y={385}>
      <BarChart
        width={60}
        height={HEAT_H + 6}
        data={clusterRows}
        barCategoryGap={0}
        margin={{ top: 3, right: 3, bottom: 3, left: 3 }}
      >
        <XAxis hide type="category" dataKey="name" />
        <YAxis hide type="number" domain={[0, 80]} reversed />
        <Bar dataKey="c2" stackId="s" fill="#000" stroke="#000" strokeWidth={3} isAnimationActive={false} />
        <Bar dataKey="c1" stackId="s" fill="#fff" stroke="#222" strokeWidth={5} isAnimationActive={false} />
      </BarChart>
    </Place>

    {/* Venn diagram */}
    <Title x={184} y={2622} size={137}>PBMC</Title>
    <Title x={698} y={2641} size={139}>BAL(severe)</Title>
    <Title x={400} y={3964} size={138.5}>BAL(mild)</Title>
    <Place x={63} y={2650}>
      <ScatterChart width={VENN_W} height={VENN_H} margin={{ top: 0, right: 0, bottom: 0, left: 0 }}>
        <XAxis hide type="number" dataKey="x" domain={[-VENN_XMAX, VENN_XMAX]} />
        <YAxis hide type="number" dataKey="y" domain={[-2.521, 1.1204]} />
        <Scatter data={vennSets} shape={<VennBase />} isAnimationActive={false} />
        <Scatter data={vennOverlaps} shape={<VennOverlap />} isAnimationActive={false} />
        <Scatter
          data={vennSets}
          shape={({ cx, cy }: any) => <circle cx={cx} cy={cy} r={vennR} fill="none" stroke="#000" strokeWidth={3.5} />}
          isAnimationActive={false}
        />
        <Scatter
          data={vennCounts}
          shape={({ cx, cy, payload }: any) => (
            <text x={cx} y={cy} textAnchor="middle" dominantBaseline="central" fontSize={44} fontWeight={700} fill="#111">
              {payload.count}
            </text>
          )}
          isAnimationActive={false}
        />
      </ScatterChart>
    </Place>

    {/* volcano plot */}
    <Place x={1500} y={2500}>
      <ComposedChart width={1829} height={1400} margin={{ top: 70, right: 53, bottom: 0, left: 0 }}>
        <XAxis
          type="number"
          dataKey="x"
          domain={[-4, 6]}
          ticks={xTicks}
          height={335}
          tickSize={44}
          tickMargin={24}
          axisLine={{ stroke: '#000', strokeWidth: 10 }}
          tickLine={{ stroke: '#000', strokeWidth: 10 }}
          tick={{ fontSize: 70, fontWeight: 700, fill: '#000' }}
          label={{ value: 'Log2 FC', position: 'insideTop', offset: 185, fontSize: 82, fontWeight: 700, fill: '#000' }}
        />
        <YAxis
          type="number"
          dataKey="y"
          domain={[0, 8]}
          ticks={yTicks}
          width={285}
          tickSize={44}
          tickMargin={10}
          axisLine={{ stroke: '#000', strokeWidth: 10 }}
          tickLine={{ stroke: '#000', strokeWidth: 10 }}
          tick={{ fontSize: 70, fontWeight: 700, fill: '#000' }}
          label={{ value: '-log 10 p value', angle: -90, position: 'insideLeft', offset: 123, fontSize: 83, fontWeight: 700, fill: '#000', style: { textAnchor: 'middle' } }}
        />
        <Area data={leftMass} dataKey="range" stroke="#000" strokeWidth={8} fill="#000" fillOpacity={1} dot={false} isAnimationActive={false} />
        <Area data={rightMass} dataKey="range" stroke="#000" strokeWidth={8} fill="#000" fillOpacity={1} dot={false} isAnimationActive={false} />
        <Scatter
          data={toPoints(blackGenes)}
          shape={({ cx, cy }: any) => <circle cx={cx} cy={cy} r={6} fill="#000" />}
          isAnimationActive={false}
        />
        <Scatter
          data={toPoints(blueGenes)}
          shape={({ cx, cy }: any) => <circle cx={cx} cy={cy} r={5.5} fill="#0000C8" fillOpacity={0.75} />}
          isAnimationActive={false}
        />
        <Scatter
          data={toPoints(redGenes)}
          shape={({ cx, cy }: any) => <circle cx={cx} cy={cy} r={5.5} fill="#E61E1E" />}
          isAnimationActive={false}
        />
        <Scatter
          data={geneLabels}
          shape={({ cx, cy, payload }: any) => (
            <text x={cx} y={cy} textAnchor="middle" dominantBaseline="central" fontSize={53} fontWeight={700} fill="#000">
              {payload.name}
            </text>
          )}
          isAnimationActive={false}
        />
      </ComposedChart>
    </Place>
  </div>
);

export default App;
